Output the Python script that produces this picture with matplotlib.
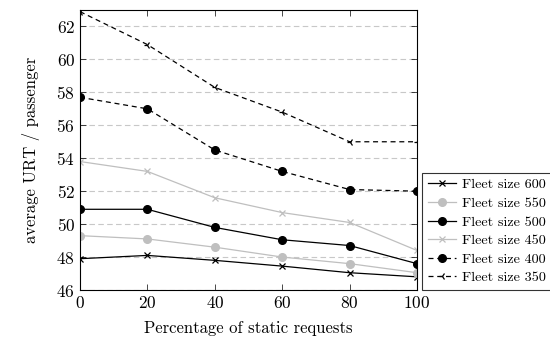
import numpy as np
import matplotlib as mpl
mpl.use('Agg')
import matplotlib.pyplot as plt

mpl.rcParams['font.family'] = 'serif'
mpl.rcParams['font.serif'] = ['cmr10', 'DejaVu Serif']
mpl.rcParams['mathtext.fontset'] = 'cm'
mpl.rcParams['axes.formatter.use_mathtext'] = True

pct = [0, 20, 40, 60, 80, 100]
fleet600 = [47.9, 48.1, 47.8, 47.45, 47.05, 46.8]
fleet550 = [49.3, 49.1, 48.6, 48.0, 47.6, 47.05]
fleet500 = [50.9, 50.9, 49.8, 49.05, 48.7, 47.6]
fleet450 = [53.8, 53.2, 51.6, 50.7, 50.1, 48.4]
fleet400 = [57.7, 57.0, 54.5, 53.2, 52.1, 52.0]
fleet350 = [62.9, 60.9, 58.3, 56.8, 55.0, 55.0]
labels = ['Fleet size 600', 'Fleet size 550', 'Fleet size 500',
          'Fleet size 450', 'Fleet size 400', 'Fleet size 350']

fig = plt.figure(figsize=(5.5, 3.37), dpi=100)
ax = fig.add_axes([80/550, 47/337, 337/550, 280/337])

gray = '#bfbfbf'
ax.plot(pct, fleet600, color='black', lw=0.9, marker='x', ms=4, mew=0.9, label=labels[0])
ax.plot(pct, fleet550, color=gray, lw=0.9, marker='o', ms=5.5, label=labels[1])
ax.plot(pct, fleet500, color='black', lw=0.9, marker='o', ms=5.5, label=labels[2])
ax.plot(pct, fleet450, color=gray, lw=0.9, marker='x', ms=4, mew=0.9, label=labels[3])
ax.plot(pct, fleet400, color='black', lw=0.9, ls=(0, (4, 3)), marker='o', ms=5.5, label=labels[4])
ax.plot(pct, fleet350, color='black', lw=0.9, ls=(0, (4, 3)), marker='3', ms=5, mew=0.9, label=labels[5])

ax.set_xlim(0, 100)
ax.set_ylim(46, 63)
ax.set_xticks(pct)
ax.set_yticks(np.arange(46, 63, 2))
ax.yaxis.grid(True, color='#c8c8c8', ls=(0, (5, 3)), lw=0.8)
ax.set_axisbelow(True)
ax.tick_params(direction='in', labelsize=12.5, length=4, width=0.5, top=True, right=True)
for s in ax.spines.values():
    s.set_linewidth(0.8)
ax.set_xlabel('Percentage of static requests', fontsize=12, labelpad=7)
ax.set_ylabel('average URT / passenger', fontsize=12, labelpad=12)

leg = ax.legend(loc='lower left', bbox_to_anchor=(1.015, 0.0), fontsize=10.2,
                frameon=True, fancybox=False, edgecolor='black', handlelength=2.0,
                borderpad=0.4, labelspacing=0.4, borderaxespad=0, handletextpad=0.4)
leg.get_frame().set_linewidth(0.8)

fig.savefig('out.png', dpi=100)
